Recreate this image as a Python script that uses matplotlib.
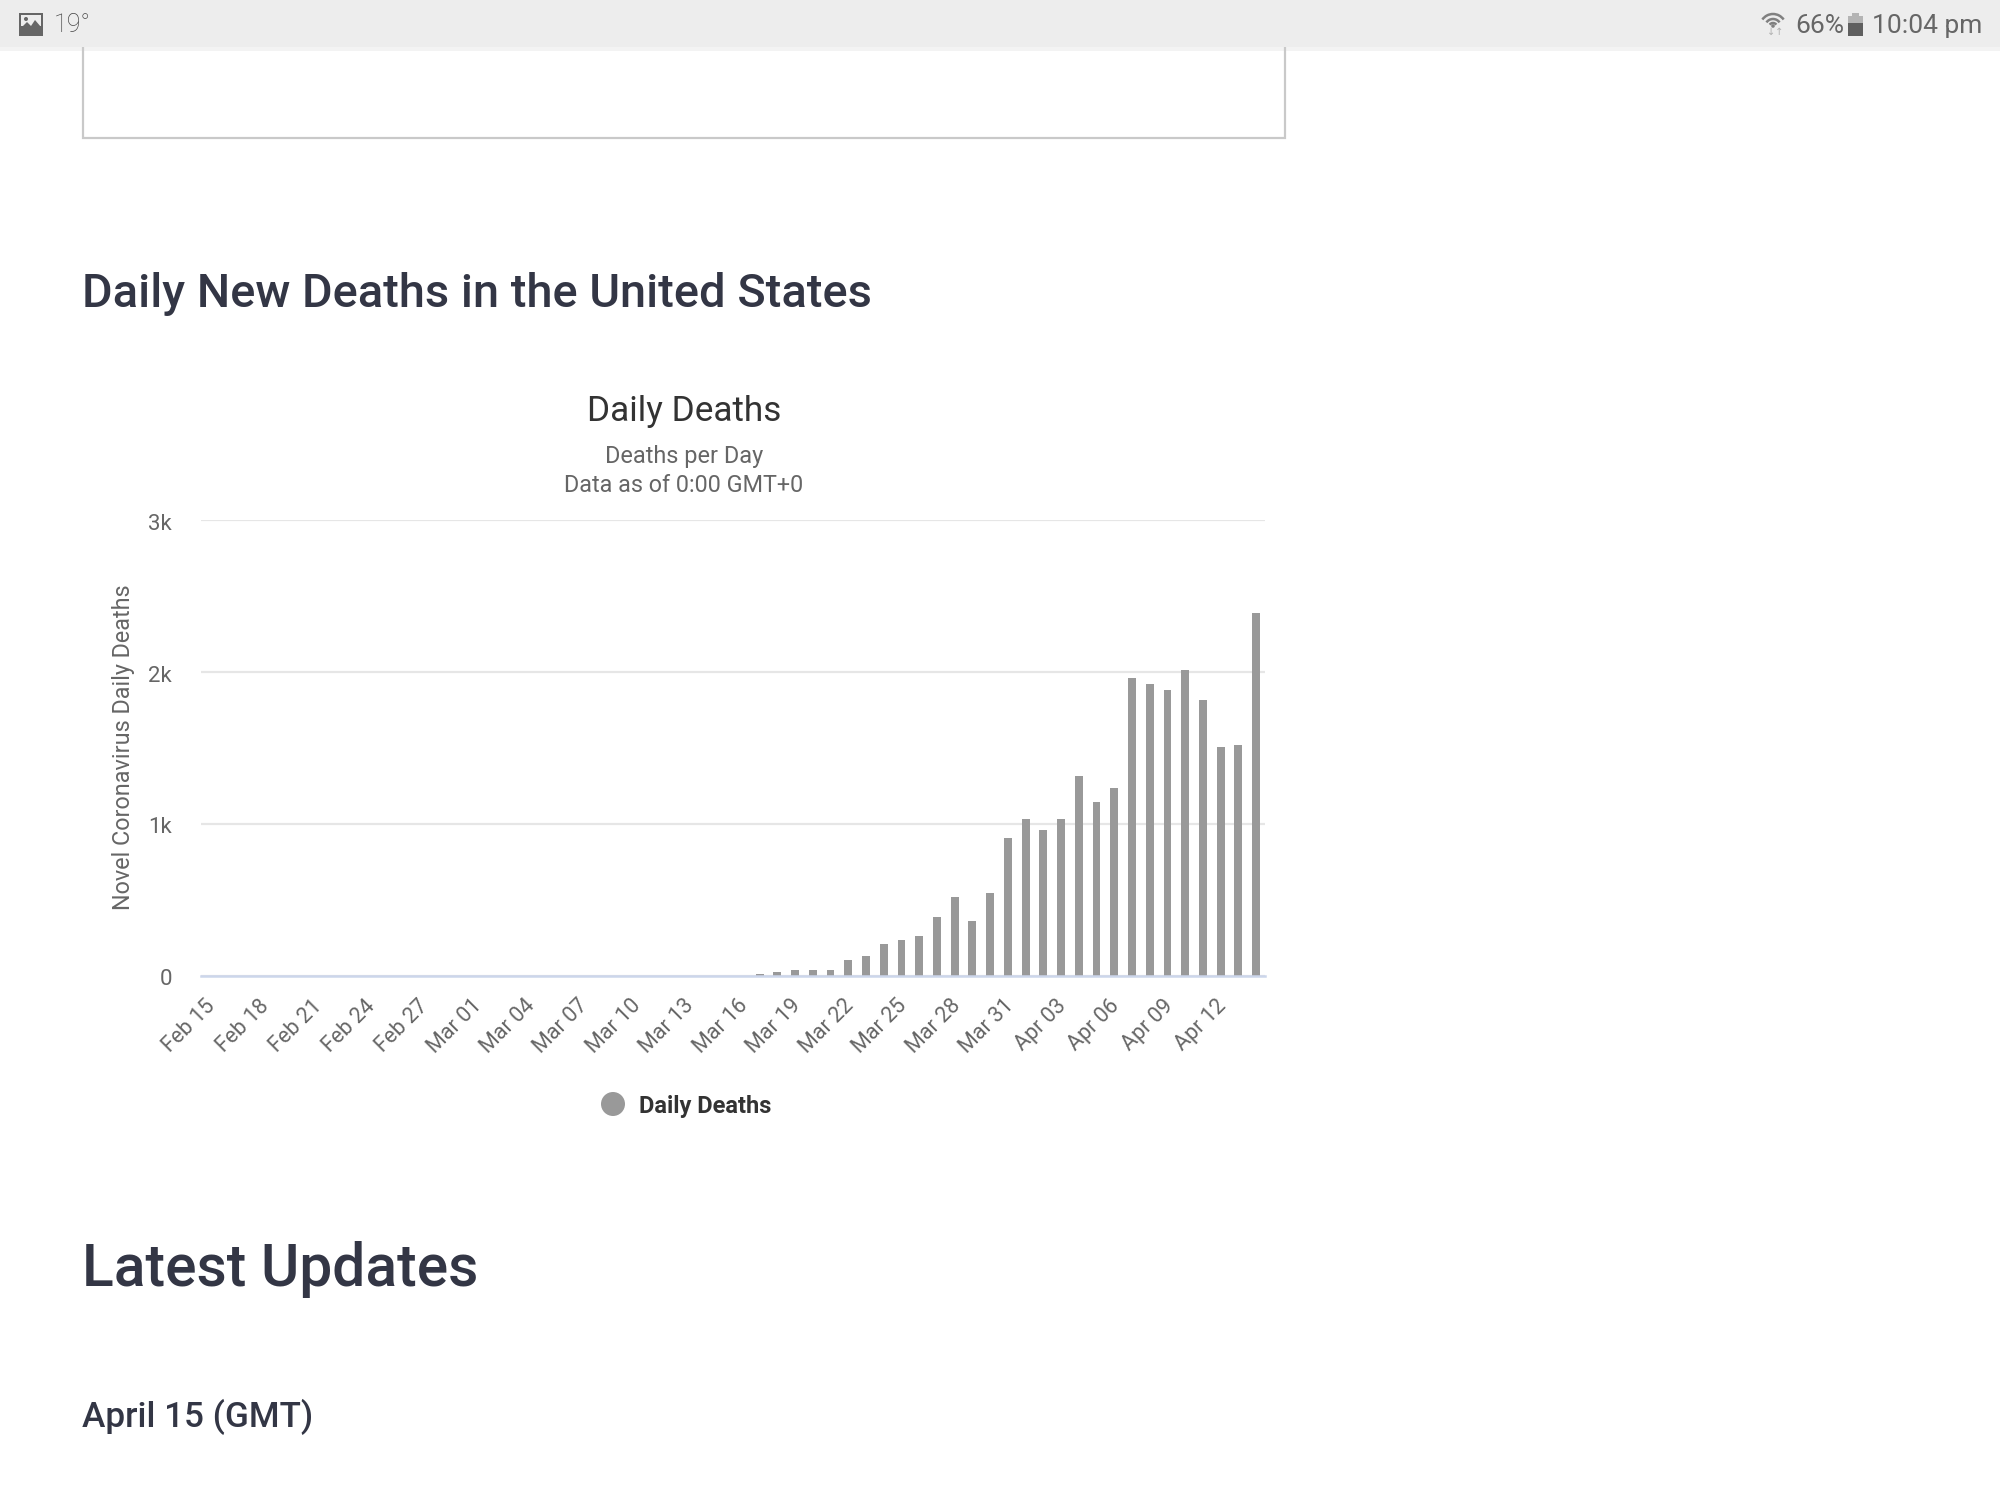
import matplotlib
matplotlib.use('Agg')
import matplotlib.pyplot as plt
from matplotlib.patches import Rectangle, Circle, Polygon, Arc
from matplotlib.transforms import ScaledTranslation
import pandas as pd

plt.rcParams['font.family'] = ['Roboto', 'DejaVu Sans']

# daily deaths
zero_days = pd.date_range('2020-02-15', '2020-03-16')
deaths_early = [0] * len(zero_days)
deaths_late = [15, 28, 40, 40, 40, 106, 131, 209, 237, 262, 391, 519, 363, 544, 905,
               1034, 958, 1034, 1316, 1147, 1240, 1959, 1921, 1883, 2012, 1818, 1507, 1523, 2385]
days = pd.date_range('2020-02-15', '2020-04-14')
deaths = deaths_early + deaths_late
labels = [d.strftime('%b %d') for d in days]
y_ticks = [0, 1000, 2000, 3000]
y_labels = ['0', '1k', '2k', '3k']

W, H = 2000, 1500
fig = plt.figure(figsize=(W / 100, H / 100), dpi=100, facecolor='white')

# page layer, in screenshot pixels
page = fig.add_axes([0, 0, 1, 1])
page.set_xlim(0, W)
page.set_ylim(H, 0)
page.axis('off')

page.add_patch(Rectangle((0, 47), W, 4, fc='#f3f3f3', ec='none', zorder=0))
page.add_patch(Rectangle((83, 40), 1202, 98, fc='none', ec='#c9c9c9', lw=1.6, zorder=1))
page.add_patch(Rectangle((0, 0), W, 47, fc='#ededed', ec='none', zorder=3))

# status bar, left side
page.add_patch(Rectangle((19, 13), 24, 23, fc='#666666', ec='none', zorder=4))
page.add_patch(Rectangle((21, 15), 20, 11, fc='#ededed', ec='none', zorder=4))
page.add_patch(Polygon([(21, 28), (27, 22), (31, 26), (35, 20), (41, 27), (41, 30), (21, 30)],
                       fc='#666666', ec='none', zorder=4))
page.add_patch(Circle((26, 19), 2, fc='#666666', ec='none', zorder=4))
page.text(54, 25, '19°', fontsize=18, color='#444444', va='center', ha='left', zorder=4, fontweight='light')

# status bar, right side
for d in [8, 16, 26]:
    page.add_patch(Arc((1773, 27), d, d, theta1=215, theta2=325, ec='#808080', lw=1.8, zorder=4))
page.add_patch(Circle((1773, 26), 1.8, fc='#808080', ec='none', zorder=4))
page.text(1767, 32, '↓↑', fontsize=7, color='#b0b0b0', va='center', ha='left', zorder=4,
          family=['DejaVu Sans'])
page.text(1795, 26, '66%', fontsize=19, color='#666666', va='center', ha='left', zorder=4)
page.add_patch(Rectangle((1848, 16), 15, 7, fc='#b4b4b4', ec='none', zorder=4))
page.add_patch(Rectangle((1852, 13), 7, 3, fc='#b4b4b4', ec='none', zorder=4))
page.add_patch(Rectangle((1848, 23), 15, 13, fc='#5f5f5f', ec='none', zorder=4))
page.text(1872, 26, '10:04 pm', fontsize=19, color='#666666', va='center', ha='left', zorder=4)

# page headings
page.text(82, 294, 'Daily New Deaths in the United States', fontsize=33.8, fontweight='medium',
          color='#333645', va='center', ha='left')
page.text(82, 1269, 'Latest Updates', fontsize=42.2, fontweight='medium', color='#333645',
          va='center', ha='left')
page.text(82, 1417, 'April 15 (GMT)', fontsize=25.3, fontweight='medium', color='#333645',
          va='center', ha='left')

# chart headings
page.text(684, 412, 'Daily Deaths', fontsize=25.3, color='#333333', va='center', ha='center')
page.text(684, 457, 'Deaths per Day', fontsize=16.9, color='#666666', va='center', ha='center')
page.text(684, 485, 'Data as of 0:00 GMT+0', fontsize=16.8, color='#666666', va='center', ha='center')
page.text(123.5, 747, 'Novel Coronavirus Daily Deaths', fontsize=16.8, color='#666666', va='center',
          ha='center', rotation=90)

# legend
page.add_patch(Circle((613, 1104), 12, fc='#999999', ec='none'))
page.text(639, 1106, 'Daily Deaths', fontsize=17, fontweight='bold', color='#333333',
          va='center', ha='left')

# chart, axes box spans x 201-1265 and y 520-976
ax = fig.add_axes([201 / W, 1 - 976 / H, (1265 - 201) / W, (976 - 520) / H])
ax.patch.set_alpha(0)
ax.bar(range(len(deaths)), deaths, width=0.44, color='#999999', zorder=3)
ax.set_xlim(-0.5, len(deaths) - 0.5)
ax.set_ylim(0, 3000)
for s in ['top', 'right', 'left']:
    ax.spines[s].set_visible(False)
ax.spines['bottom'].set_color('#ccd6eb')
ax.spines['bottom'].set_linewidth(1.8)
ax.spines['bottom'].set_zorder(4)
ax.yaxis.grid(True, color='#e6e6e6', lw=1.6, zorder=1)
ax.set_yticks(y_ticks)
ax.set_yticklabels(y_labels, fontsize=16, color='#666666')
ax.tick_params(axis='y', length=0, pad=21)
y_shift = ScaledTranslation(0, -1.5 / 100, fig.dpi_scale_trans)
for t in ax.get_yticklabels():
    t.set_transform(t.get_transform() + y_shift)
ax.set_xticks(range(0, len(labels), 3))
ax.set_xticklabels(labels[::3], rotation=45, ha='right', rotation_mode='anchor',
                   fontsize=15.5, color='#666666')
ax.tick_params(axis='x', length=0, pad=14)
shift = ScaledTranslation(-5 / 100, 0, fig.dpi_scale_trans)
for t in ax.get_xticklabels():
    t.set_transform(t.get_transform() + shift)

fig.savefig('out.png', dpi=100)
